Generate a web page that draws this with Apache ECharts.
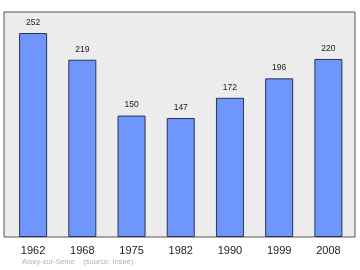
<!DOCTYPE html>
<html><head><meta charset="utf-8">
<script src="https://cdn.jsdelivr.net/npm/echarts@6/dist/echarts.min.js"></script>
<style>html,body{margin:0;padding:0;background:#fff}#c{width:360px;height:270px}</style>
</head><body><div id="c"></div>
<script>
const categories = ['1962','1968','1975','1982','1990','1999','2008'];
const population = [252, 219, 150, 147, 172, 196, 220];
const sourceText = 'Aisey-sur-Seine    (source: Insee)';

const chart = echarts.init(document.getElementById('c'));
chart.setOption({
  animation: false,
  backgroundColor: '#ffffff',
  grid: [
    {left: 4, top: 12, width: 351, height: 225, show: true, backgroundColor: '#ececec', borderColor: '#555', borderWidth: 1},
    {left: 8.5, top: 12, width: 344.5, height: 225}
  ],
  xAxis: [
    {gridIndex: 0, type: 'value', show: false, min: 0, max: 1},
    {gridIndex: 1, type: 'category', data: categories,
     axisLine: {show: false}, axisTick: {show: false},
     axisLabel: {color: '#222', fontSize: 11, fontFamily: 'Liberation Sans', margin: 8}}
  ],
  yAxis: [
    {gridIndex: 0, type: 'value', show: false, min: 0, max: 1},
    {gridIndex: 1, type: 'value', min: 0, max: 278, show: false}
  ],
  graphic: [{type: 'text', left: 22, top: 258, style: {text: sourceText, fill: '#b4b4b4', font: '7.5px "Liberation Sans"'}}],
  series: [{
    type: 'bar', xAxisIndex: 1, yAxisIndex: 1, data: population, barWidth: 28,
    itemStyle: {color: '#6f96fc', borderColor: '#2a3350', borderWidth: 1},
    label: {show: true, position: 'top', distance: 6, color: '#222', fontSize: 8.5, fontFamily: 'Liberation Sans'}
  }]
});
</script></body></html>
